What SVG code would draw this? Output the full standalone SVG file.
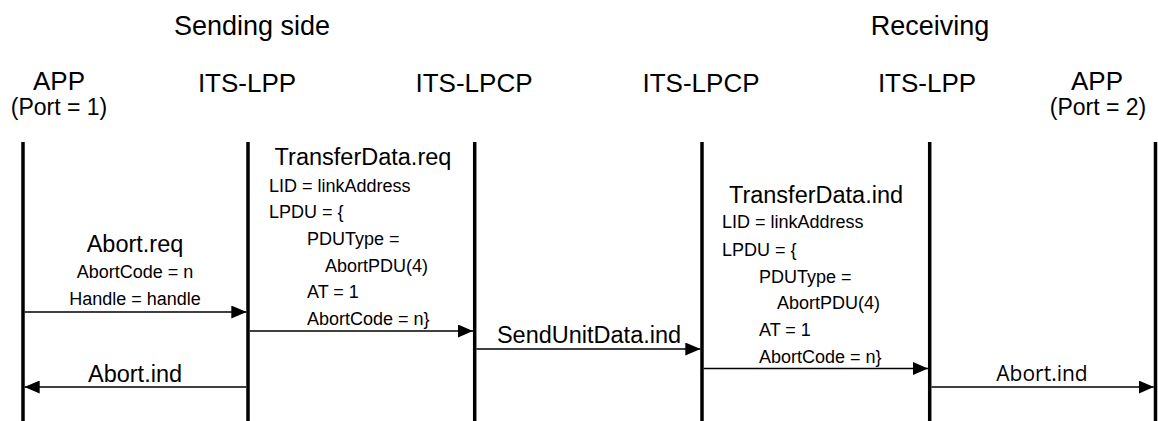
<svg xmlns="http://www.w3.org/2000/svg" width="1158" height="421" viewBox="0 0 1158 421">
<style>
text{font-family:"Liberation Sans",Arial,sans-serif;fill:#000}
.title{font-size:27px;text-anchor:middle}
.head{font-size:26px;text-anchor:middle}
.port{font-size:23px;text-anchor:middle}
.msg{font-size:23.5px}
.mc{text-anchor:middle}
.p{font-size:18px}
.life{stroke:#000;stroke-width:3.5}
.arr{stroke:#000;stroke-width:1.6;fill:none;marker-end:url(#ah)}
</style>
<defs>
<marker id="ah" viewBox="0 0 15 13" refX="15" refY="6.5" markerWidth="15" markerHeight="13" markerUnits="userSpaceOnUse" orient="auto">
<path d="M0,0 L15,6.5 L0,13 z" fill="#000"/>
</marker>
</defs>
<rect width="1158" height="421" fill="#fff"/>
<text class="title" x="252" y="35">Sending side</text>
<text class="title" x="930" y="35">Receiving</text>
<g id="app1">
<text class="head" x="59" y="90">APP</text>
<text class="port" x="59" y="115">(Port = 1)</text>
<line class="life" x1="23" y1="142" x2="23" y2="421"/>
</g>
<g id="lpp1">
<text class="head" x="247" y="92">ITS-LPP</text>
<line class="life" x1="248" y1="142" x2="248" y2="421"/>
</g>
<g id="lpcp1">
<text class="head" x="474" y="92">ITS-LPCP</text>
<line class="life" x1="474.7" y1="142" x2="474.7" y2="421"/>
</g>
<g id="lpcp2">
<text class="head" x="701" y="92">ITS-LPCP</text>
<line class="life" x1="702" y1="142" x2="702" y2="421"/>
</g>
<g id="lpp2">
<text class="head" x="927" y="92">ITS-LPP</text>
<line class="life" x1="929.7" y1="142" x2="929.7" y2="421"/>
</g>
<g id="app2">
<text class="head" x="1097" y="90">APP</text>
<text class="port" x="1098" y="115">(Port = 2)</text>
<line class="life" x1="1155.5" y1="142" x2="1155.5" y2="421"/>
</g>
<g id="connectors">
<line class="arr" x1="24.5" y1="312" x2="246.3" y2="312"/>
<line class="arr" x1="249.7" y1="331" x2="473" y2="331"/>
<line class="arr" x1="246.3" y1="387" x2="24.7" y2="387"/>
<line class="arr" x1="476.4" y1="349" x2="700.3" y2="349"/>
<line class="arr" x1="703.7" y1="368.5" x2="928" y2="368.5"/>
<line class="arr" x1="931.4" y1="387" x2="1153.8" y2="387"/>
</g>
<g id="labels">
<text class="msg mc" x="135" y="252">Abort.req</text>
<text class="p mc" x="135" y="278">AbortCode = n</text>
<text class="p mc" x="135" y="305">Handle = handle</text>
<text class="msg mc" x="135" y="382">Abort.ind</text>
<text class="msg mc" x="363" y="165">TransferData.req</text>
<text class="p" x="269" y="192">LID = linkAddress</text>
<text class="p" x="269" y="218">LPDU = {</text>
<text class="p" x="307" y="245">PDUType =</text>
<text class="p" x="325" y="272">AbortPDU(4)</text>
<text class="p" x="307" y="298">AT = 1</text>
<text class="p" x="307" y="325">AbortCode = n}</text>
<text class="msg mc" x="589" y="343">SendUnitData.ind</text>
<text class="msg mc" x="816" y="203">TransferData.ind</text>
<text class="p" x="722" y="228">LID = linkAddress</text>
<text class="p" x="722" y="256">LPDU = {</text>
<text class="p" x="759" y="283">PDUType =</text>
<text class="p" x="777" y="309">AbortPDU(4)</text>
<text class="p" x="759" y="336">AT = 1</text>
<text class="p" x="759" y="363">AbortCode = n}</text>
<text class="mc" x="1042" y="381" style="font-family:'Open Sans','Noto Sans',sans-serif;font-size:21px">Abort.ind</text>
</g>
</svg>
